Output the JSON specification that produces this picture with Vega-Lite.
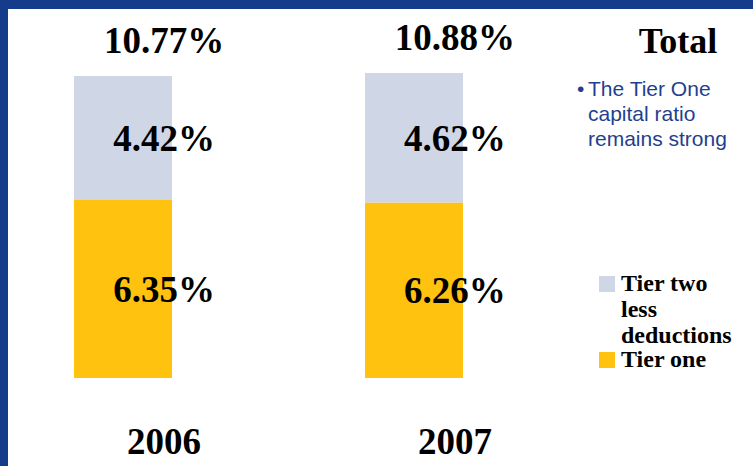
{
  "$schema": "https://vega.github.io/schema/vega-lite/v6.json",
  "width": 745,
  "height": 457,
  "autosize": {"type": "none"},
  "padding": {"left": 8, "top": 9, "right": 0, "bottom": 0},
  "background": "#143c8a",
  "view": {"fill": "#ffffff", "stroke": null},
  "datasets": {
    "ratios": [
      {"year": "2006", "series": "Tier one", "value": 6.35},
      {"year": "2006", "series": "Tier two less deductions", "value": 4.42},
      {"year": "2007", "series": "Tier one", "value": 6.26},
      {"year": "2007", "series": "Tier two less deductions", "value": 4.62}
    ],
    "notes": [{"header": "Total", "bullet": "•", "note": "The Tier One\ncapital ratio\nremains strong"}]
  },
  "layer": [
    {
      "data": {"name": "ratios"},
      "transform": [
        {"stack": "value", "groupby": ["year"], "sort": [{"field": "series", "order": "ascending"}], "as": ["v0", "v1"]}
      ],
      "mark": {"type": "bar"},
      "encoding": {
        "x": {"field": "year", "type": "nominal",
          "scale": {"paddingInner": 0.6632, "paddingOuter": 0.6117, "align": 0.1854},
          "axis": {"title": null, "orient": "bottom", "offset": -13, "domain": false, "ticks": false, "labelPadding": 0, "labelBaseline": "alphabetic", "labelOffset": 41, "labelAngle": 0, "labelFont": "Liberation Serif", "labelFontWeight": "bold", "labelFontSize": 37, "labelColor": "#000000", "labelFlush": false, "labelOverlap": false}},
        "y": {"field": "v1", "type": "quantitative", "scale": {"domain": [-3.138, 13.16], "nice": false, "zero": false}, "axis": null},
        "y2": {"field": "v0"},
        "color": {"field": "series", "type": "nominal",
          "scale": {"domain": ["Tier two less deductions", "Tier one"], "range": ["#cfd6e6", "#ffc20e"]},
          "legend": {"orient": "none", "legendX": 587, "legendY": 263, "title": null, "symbolType": "square", "symbolSize": 256, "symbolStrokeWidth": 0, "labelFont": "Liberation Serif", "labelFontWeight": "bold", "labelFontSize": 24, "labelColor": "#000000", "labelExpr": "datum.label == 'Tier two less deductions' ? ['Tier two', 'less', 'deductions'] : datum.label", "labelBaseline": "middle", "labelOffset": 2, "labelLimit": 0, "rowPadding": 0}}
      }
    },
    {
      "data": {"name": "ratios"},
      "transform": [
        {"stack": "value", "groupby": ["year"], "sort": [{"field": "series", "order": "ascending"}], "as": ["v0", "v1"]},
        {"calculate": "(datum.v0 + datum.v1) / 2", "as": "mid"},
        {"calculate": "format(datum.value, '.2f') + '%'", "as": "label"}
      ],
      "mark": {"type": "text", "align": "center", "baseline": "middle", "dx": 41, "dy": 2, "font": "Liberation Serif", "fontWeight": "bold", "fontSize": 37, "color": "#000000"},
      "encoding": {
        "x": {"field": "year", "type": "nominal"},
        "y": {"field": "mid", "type": "quantitative"},
        "text": {"field": "label"}
      }
    },
    {
      "data": {"name": "ratios"},
      "transform": [
        {"aggregate": [{"op": "sum", "field": "value", "as": "total"}], "groupby": ["year"]},
        {"calculate": "format(datum.total, '.2f') + '%'", "as": "label"}
      ],
      "mark": {"type": "text", "align": "center", "baseline": "alphabetic", "dx": 41, "dy": -23, "font": "Liberation Serif", "fontWeight": "bold", "fontSize": 37, "color": "#000000"},
      "encoding": {
        "x": {"field": "year", "type": "nominal"},
        "y": {"field": "total", "type": "quantitative"},
        "text": {"field": "label"}
      }
    },
    {
      "data": {"name": "notes"},
      "mark": {"type": "text", "align": "center", "baseline": "alphabetic", "font": "Liberation Serif", "fontWeight": "bold", "fontSize": 36, "color": "#000000"},
      "encoding": {
        "x": {"value": 670},
        "y": {"value": 44},
        "text": {"field": "header"}
      }
    },
    {
      "data": {"name": "notes"},
      "mark": {"type": "text", "align": "left", "baseline": "alphabetic", "font": "Liberation Sans", "fontSize": 21, "color": "#1f3f8f"},
      "encoding": {
        "x": {"value": 569},
        "y": {"value": 87},
        "text": {"field": "bullet"}
      }
    },
    {
      "data": {"name": "notes"},
      "mark": {"type": "text", "align": "left", "baseline": "alphabetic", "font": "Liberation Sans", "fontSize": 21, "lineHeight": 25, "lineBreak": "\n", "color": "#1f3f8f"},
      "encoding": {
        "x": {"value": 580},
        "y": {"value": 87},
        "text": {"field": "note"}
      }
    }
  ]
}
